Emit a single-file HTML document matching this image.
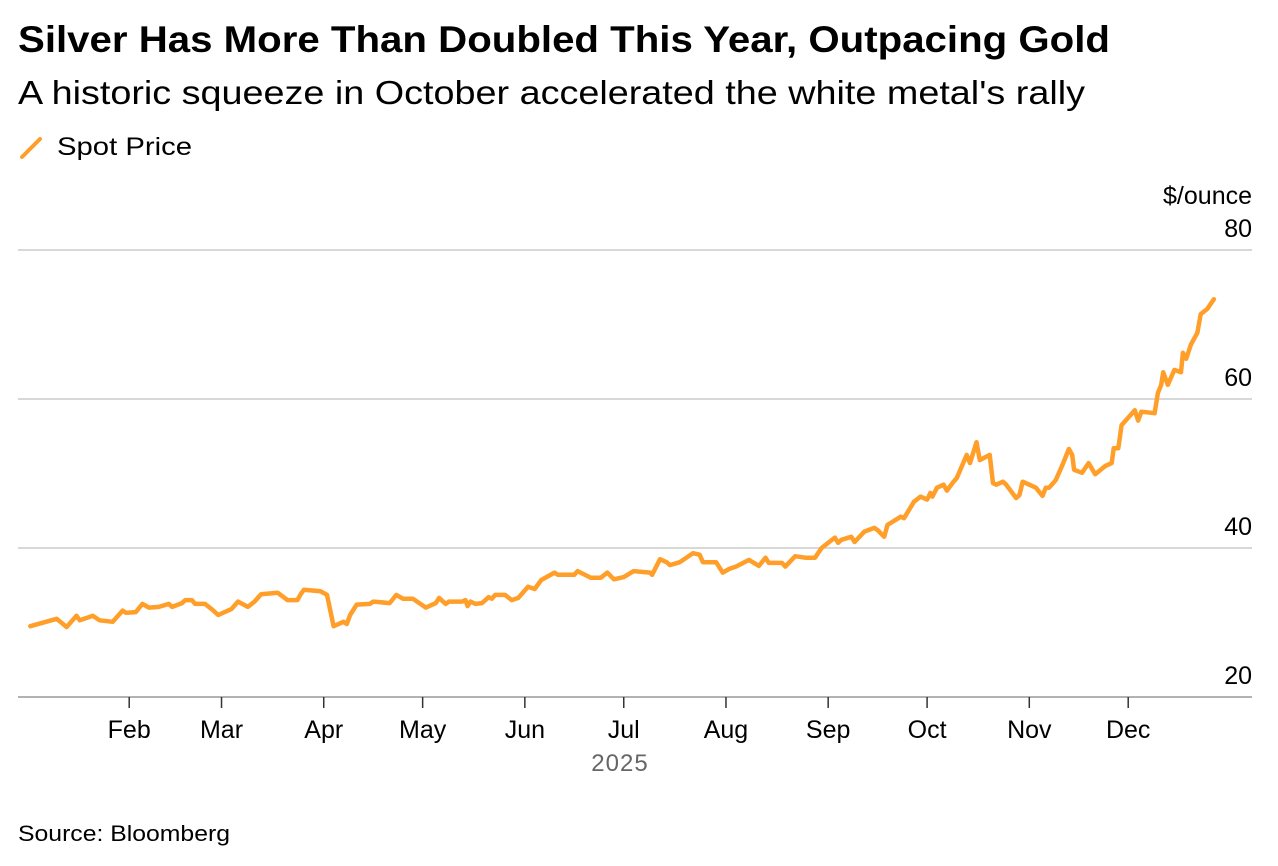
<!DOCTYPE html>
<html><head><meta charset="utf-8">
<style>
body{margin:0;background:#fff;font-family:"Liberation Sans",sans-serif;}
svg{display:block}
</style></head>
<body>
<svg id="chart" width="1278" height="866">
<text x="18" y="52" font-size="37" font-weight="bold" fill="#000" textLength="1092" lengthAdjust="spacingAndGlyphs">Silver Has More Than Doubled This Year, Outpacing Gold</text>
<text x="18" y="104" font-size="33" fill="#000" textLength="1067" lengthAdjust="spacingAndGlyphs">A historic squeeze in October accelerated the white metal's rally</text>
<g>
<line x1="22" y1="157" x2="40" y2="139" stroke="#ff9f2a" stroke-width="4" stroke-linecap="round"/>
<text x="57" y="155" font-size="25" fill="#000" textLength="135" lengthAdjust="spacingAndGlyphs">Spot Price</text>
</g>
<text x="1252" y="204" font-size="25" text-anchor="end" fill="#000">$/ounce</text>
<g id="grid"></g>
<g id="xaxis"></g>
<text x="620" y="771" font-size="24" text-anchor="middle" fill="#666" letter-spacing="1">2025</text>
<path id="line" fill="none" stroke="#ff9f2a" stroke-width="4.5" stroke-linejoin="round" stroke-linecap="round"/>
<text x="18" y="841" font-size="22" fill="#000" textLength="212" lengthAdjust="spacingAndGlyphs">Source: Bloomberg</text>
</svg>
<script>
const days=[1,9,12,15,16,20,22,26,29,30,33,35,37,40,43,44,47,48,50,51,54,56,58,62,64,67,69,71,76,79,82,83,84,89,91,93,96,97,98,100,104,105,110,112,114,117,121,124,125,127,128,132,133,133.6,134.5,136,138,140,141,142,145,147,149,152,154,156,160,161,166,167,171,174,176,178,181,184,189,189.6,192,194,195,198,202,204,205,209,211,213,215,219,222,224,225,229,230,233,236,239,241,245,246,247,250,251,254,257,258,260,261,265,266,269,271,273,274,274.6,276,278,279,281,282,285,286,288,289,292,293,294,296,297,300,301,302,306,308,309,310,312,314,316,317,317.6,320,322,324,327,329,329.6,331,332,336,337,338,342,343,344,344.6,346,348,350,350.6,351.6,353,355,356,358,360];
const prices=[29.5,30.5,29.4,30.9,30.3,30.9,30.3,30.1,31.6,31.3,31.4,32.5,32.0,32.1,32.5,32.1,32.6,33.0,33.0,32.5,32.5,31.8,31.0,31.8,32.8,32.1,32.8,33.8,34.0,33.0,33.0,33.8,34.4,34.2,33.7,29.5,30.1,29.8,31.0,32.4,32.5,32.8,32.6,33.7,33.2,33.2,32.0,32.6,33.3,32.5,32.8,32.8,33.0,32.2,32.8,32.5,32.6,33.4,33.2,33.7,33.7,33.0,33.3,34.8,34.5,35.7,36.7,36.4,36.4,36.9,36.0,36.0,36.7,35.8,36.1,36.9,36.7,36.4,38.5,38.1,37.7,38.1,39.3,39.1,38.1,38.1,36.7,37.2,37.5,38.4,37.6,38.7,38.0,38.0,37.5,38.9,38.7,38.7,40.0,41.4,40.7,41.1,41.5,40.8,42.2,42.7,42.4,41.5,43.1,44.2,44.0,46.2,46.9,46.5,47.4,46.9,48.1,48.5,47.7,48.9,49.4,52.5,51.4,54.2,51.8,52.5,48.7,48.5,48.9,48.5,46.7,47.1,48.9,48.1,47.0,48.1,48.1,49.1,51.1,53.3,52.5,50.5,50.1,51.4,49.9,51.0,51.4,53.4,53.4,56.5,58.5,57.1,58.3,58.1,60.8,61.9,63.6,61.9,63.9,63.6,66.2,65.4,67.3,68.9,71.4,72.1,73.4];
const yTicks=[20,40,60,80];
const monthLabels=["Feb","Mar","Apr","May","Jun","Jul","Aug","Sep","Oct","Nov","Dec"];
const monthStarts=[31,59,90,120,151,181,212,243,273,304,334];

const NS="http://www.w3.org/2000/svg";
function xScale(d){return 27+d*(1128-129)/(334-31);}
function yScale(v){return 697-(v-20)*(697-250)/60;}
const grid=document.getElementById('grid');
yTicks.forEach(t=>{
  const l=document.createElementNS(NS,'line');
  l.setAttribute('x1',18);l.setAttribute('x2',1252);
  l.setAttribute('y1',yScale(t));l.setAttribute('y2',yScale(t));
  l.setAttribute('stroke',t===20?'#999':'#ccc');l.setAttribute('stroke-width',1.5);
  
  
  grid.appendChild(l);
  const tx=document.createElementNS(NS,'text');
  tx.setAttribute('x',1252);tx.setAttribute('y',yScale(t)-13);
  tx.setAttribute('text-anchor','end');tx.setAttribute('font-size','25');
  tx.textContent=t;
  
  
  grid.appendChild(tx);
});
const xa=document.getElementById('xaxis');
monthLabels.forEach((m,i)=>{
  const x=xScale(monthStarts[i]);
  const l=document.createElementNS(NS,'line');
  l.setAttribute('x1',x);l.setAttribute('x2',x);l.setAttribute('y1',697);l.setAttribute('y2',708);
  l.setAttribute('stroke','#333');l.setAttribute('stroke-width',1.5);
  
  
  xa.appendChild(l);
  const t=document.createElementNS(NS,'text');
  t.setAttribute('x',x);t.setAttribute('y',738);t.setAttribute('text-anchor','middle');t.setAttribute('font-size','25');
  t.textContent=m;
  
  
  xa.appendChild(t);
});
document.getElementById('line').setAttribute('d',days.map((d,i)=>(i?'L':'M')+xScale(d).toFixed(1)+','+yScale(prices[i]).toFixed(1)).join(''));
</script>
</body></html>
